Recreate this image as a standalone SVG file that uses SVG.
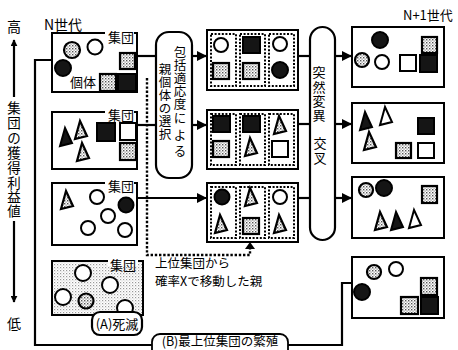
<svg xmlns="http://www.w3.org/2000/svg" xmlns:xlink="http://www.w3.org/1999/xlink" width="458" height="350" viewBox="0 0 458 350">
<defs>
<pattern id="dots" width="3" height="3" patternUnits="userSpaceOnUse"><rect width="3" height="3" fill="#fff"/><rect x="0" y="0" width="1.4" height="1.4" fill="#555"/><rect x="1.5" y="1.5" width="1.2" height="1.2" fill="#888"/></pattern>
<pattern id="lite" width="3" height="3" patternUnits="userSpaceOnUse"><rect width="3" height="3" fill="#fff"/><rect x="0" y="0" width="1.2" height="1.2" fill="#999"/><rect x="1.5" y="1.5" width="1" height="1" fill="#bbb"/></pattern>
<marker id="ah" viewBox="0 0 10 10" refX="9" refY="5" markerWidth="10" markerHeight="10" markerUnits="userSpaceOnUse" orient="auto"><path d="M0,0 L10,5 L0,10 Z" fill="#000"/></marker>
<marker id="sa" viewBox="0 0 10 10" refX="9" refY="5" markerWidth="7" markerHeight="7" markerUnits="userSpaceOnUse" orient="auto"><path d="M0,0 L10,5 L0,10 Z" fill="#000"/></marker>
<path id="tri" d="M5,0 L0,18 L12,15 Z"/>
</defs>
<style>
.j{font-family:"Noto Sans CJK JP","Noto Sans",sans-serif;fill:#000}
.box{fill:#fff;stroke:#000;stroke-width:2}
.dead{fill:url(#lite);stroke:#000;stroke-width:2}
.pill{fill:#fff;stroke:#000;stroke-width:2.2}
.col{fill:none;stroke:#000;stroke-width:2;stroke-dasharray:2 1.6}
.w{fill:#fff;stroke:#000;stroke-width:2}
.b{fill:#151515;stroke:#000;stroke-width:2}
.d{fill:url(#dots);stroke:#000;stroke-width:2.2}
.ln{fill:none;stroke:#000;stroke-width:2.2}
.dl{fill:none;stroke:#000;stroke-width:2.4;stroke-dasharray:2.4 1.8}
.lab{fill:#fff;stroke:none}
</style>

<g id="axis">
<text class="j" x="14" y="32" font-size="14" text-anchor="middle">高</text>
<line x1="14" y1="97" x2="14" y2="40" class="ln" stroke-width="1.4" marker-end="url(#sa)"/>
<text class="j" font-size="13.5" text-anchor="middle"><tspan x="14" y="113">集</tspan><tspan x="14" y="128">団</tspan><tspan x="14" y="143">の</tspan><tspan x="14" y="158">獲</tspan><tspan x="14" y="173">得</tspan><tspan x="14" y="188">利</tspan><tspan x="14" y="202">益</tspan><tspan x="14" y="216">値</tspan></text>
<line x1="14" y1="221" x2="14" y2="302" class="ln" stroke-width="1.4" marker-end="url(#sa)"/>
<text class="j" x="14" y="329" font-size="14" text-anchor="middle">低</text>
</g>

<text class="j" x="44" y="30" font-size="14">N世代</text>
<text class="j" x="403" y="20" font-size="13">N+1世代</text>

<g id="connectors">
<polyline class="ln" points="52,60 35,60 35,345 342,345 342,283 352,283"/>
<line class="ln" x1="137" y1="56" x2="156" y2="56"/>
<line class="ln" x1="137" y1="125" x2="156" y2="125"/>
<line class="ln" x1="137" y1="198" x2="206" y2="198" marker-end="url(#ah)"/>
<line class="ln" x1="192" y1="56" x2="206" y2="56" marker-end="url(#ah)"/>
<line class="ln" x1="192" y1="125" x2="206" y2="125" marker-end="url(#ah)"/>
<line class="ln" x1="298" y1="56" x2="310" y2="56"/>
<line class="ln" x1="298" y1="124" x2="310" y2="124"/>
<line class="ln" x1="298" y1="198" x2="310" y2="198"/>
<line class="ln" x1="335" y1="56" x2="351" y2="56" marker-end="url(#ah)"/>
<line class="ln" x1="335" y1="124" x2="351" y2="124" marker-end="url(#ah)"/>
<line class="ln" x1="335" y1="198" x2="351" y2="198" marker-end="url(#ah)"/>
<polyline class="dl" points="147,78 147,255 250,255 250,248"/>
<path d="M245,249 L250,242 L255,249 Z" fill="#000"/>
</g>

<g id="g1">
<rect class="box" x="52" y="33" width="85" height="59"/>
<rect class="lab" x="105" y="30" width="29" height="8"/>
<text class="j" x="108" y="42" font-size="13">集団</text>
<circle class="d" cx="72" cy="50" r="8"/>
<circle class="w" cx="95" cy="47" r="7.5"/>
<circle class="b" cx="63" cy="68" r="8"/>
<rect class="d" x="120" y="53" width="15" height="16"/>
<text class="j" x="70" y="87" font-size="13">個体</text>
<rect class="d" x="100" y="74" width="16" height="17"/>
<rect class="b" x="118" y="74" width="18" height="17"/>
</g>

<g id="g2">
<rect class="box" x="52" y="112" width="85" height="57"/>
<rect class="lab" x="105" y="108" width="29" height="8"/>
<text class="j" x="108" y="120" font-size="13">集団</text>
<use href="#tri" x="60" y="128" class="b"/>
<use href="#tri" x="75" y="121" class="d"/>
<use href="#tri" x="77" y="143" class="d"/>
<rect class="b" x="97" y="123" width="18" height="18"/>
<rect class="w" x="120" y="123" width="16" height="17"/>
<rect class="d" x="120" y="143" width="16" height="17"/>
</g>

<g id="g3">
<rect class="box" x="52" y="183" width="85" height="62"/>
<rect class="lab" x="105" y="179" width="29" height="8"/>
<text class="j" x="108" y="191" font-size="13">集団</text>
<use href="#tri" x="61" y="191" class="d"/>
<circle class="w" cx="97" cy="197" r="7"/>
<circle class="b" cx="126" cy="205" r="7.5"/>
<circle class="w" cx="108" cy="216" r="7"/>
<circle class="w" cx="88" cy="228" r="7"/>
<circle class="w" cx="125" cy="230" r="7"/>
</g>

<g id="g4">
<rect class="dead" x="52" y="261" width="91" height="54"/>
<rect class="lab" x="108" y="258" width="30" height="8"/>
<text class="j" x="110" y="270" font-size="13">集団</text>
<circle class="w" cx="83" cy="273" r="8"/>
<circle class="w" cx="110" cy="285" r="8"/>
<circle class="w" cx="63" cy="297" r="8"/>
<circle class="d" cx="86" cy="301" r="7.5" stroke-width="2.6"/>
<circle class="w" cx="125" cy="308" r="8"/>
<rect x="92" y="312" width="50" height="23" rx="8" fill="#fff" stroke="#000" stroke-width="2.2"/>
<text class="j" x="117" y="328.5" font-size="13" text-anchor="middle">(A)死滅</text>
</g>

<g id="select">
<rect class="pill" x="156" y="32" width="36" height="146" rx="13"/>
<text class="j" font-size="12.5" text-anchor="middle"><tspan x="180" y="57">包</tspan><tspan x="180" y="70">括</tspan><tspan x="180" y="83">適</tspan><tspan x="180" y="96">応</tspan><tspan x="180" y="109">度</tspan><tspan x="180" y="123">に</tspan><tspan x="180" y="140">よ</tspan><tspan x="180" y="156">る</tspan></text>
<text class="j" font-size="12.5" text-anchor="middle"><tspan x="165" y="74">親</tspan><tspan x="165" y="87">個</tspan><tspan x="165" y="100">体</tspan><tspan x="165" y="113">の</tspan><tspan x="165" y="126">選</tspan><tspan x="165" y="139">択</tspan></text>
</g>

<g id="m1">
<rect class="box" x="207" y="30" width="91" height="60"/>
<rect class="col" x="211" y="34" width="25" height="52"/>
<rect class="col" x="240" y="34" width="25" height="52"/>
<rect class="col" x="269" y="34" width="25" height="52"/>
<circle class="w" cx="221" cy="45" r="7"/>
<rect class="d" x="213" y="63" width="16" height="16"/>
<rect class="b" x="243" y="37" width="17" height="16"/>
<rect class="d" x="243" y="63" width="16" height="16"/>
<circle class="w" cx="280" cy="44" r="7"/>
<circle class="b" cx="280" cy="70" r="8"/>
</g>

<g id="m2">
<rect class="box" x="207" y="110" width="91" height="59"/>
<rect class="col" x="211" y="114" width="25" height="51"/>
<rect class="col" x="240" y="114" width="25" height="51"/>
<rect class="col" x="269" y="114" width="25" height="51"/>
<rect class="b" x="213" y="116" width="17" height="16"/>
<rect class="d" x="213" y="141" width="16" height="16"/>
<rect class="b" x="243" y="116" width="17" height="16"/>
<use href="#tri" x="245" y="138" class="d"/>
<use href="#tri" x="274" y="116" class="d"/>
<rect class="w" x="272" y="141" width="16" height="16"/>
</g>

<g id="m3">
<rect class="box" x="207" y="183" width="91" height="59"/>
<rect class="col" x="211" y="187" width="25" height="51"/>
<rect class="col" x="240" y="187" width="25" height="51"/>
<rect class="col" x="269" y="187" width="25" height="51"/>
<circle class="b" cx="222" cy="197" r="7.5"/>
<use href="#tri" x="215" y="215" class="d"/>
<use href="#tri" x="245" y="188" class="d"/>
<rect class="d" x="243" y="218" width="16" height="16"/>
<circle class="w" cx="280" cy="197" r="7"/>
<use href="#tri" x="274" y="215" class="d"/>
</g>

<g id="mutate">
<rect class="pill" x="310" y="27" width="25" height="213" rx="12.5"/>
<text class="j" font-size="13" text-anchor="middle"><tspan x="319" y="77">突</tspan><tspan x="319" y="92">然</tspan><tspan x="319" y="106">変</tspan><tspan x="319" y="120">異</tspan><tspan x="320" y="148">交</tspan><tspan x="320" y="163">叉</tspan></text>
</g>

<g id="n1">
<rect class="box" x="352" y="27" width="92" height="60"/>
<circle class="b" cx="380" cy="40" r="8"/>
<rect class="d" x="422" y="37" width="15" height="16"/>
<circle class="d" cx="362" cy="60" r="7" stroke-width="2.6"/>
<circle class="w" cx="382" cy="62" r="7"/>
<rect class="w" x="400" y="55" width="16" height="16"/>
<rect class="b" x="420" y="55" width="17" height="17"/>
</g>

<g id="n2">
<rect class="box" x="352" y="103" width="92" height="60"/>
<use href="#tri" x="360" y="112" class="b"/>
<use href="#tri" x="380" y="107" class="w"/>
<rect class="b" x="418" y="118" width="16" height="16"/>
<use href="#tri" x="364" y="132" class="d"/>
<rect class="d" x="396" y="143" width="15" height="15"/>
<rect class="w" x="418" y="143" width="16" height="15"/>
</g>

<g id="n3">
<rect class="box" x="352" y="177" width="92" height="61"/>
<circle class="d" cx="366" cy="190" r="7" stroke-width="2.6"/>
<circle class="b" cx="384" cy="188" r="8"/>
<rect class="d" x="422" y="186" width="15" height="17"/>
<use href="#tri" x="375" y="212" class="d"/>
<use href="#tri" x="391" y="212" class="b"/>
<use href="#tri" x="409" y="210" class="w"/>
</g>

<g id="n4">
<rect class="box" x="352" y="257" width="92" height="61"/>
<circle class="d" cx="374" cy="272" r="7" stroke-width="2.6"/>
<circle class="w" cx="396" cy="269" r="7"/>
<circle class="b" cx="362" cy="292" r="8"/>
<rect class="d" x="421" y="278" width="16" height="17"/>
<rect class="d" x="401" y="297" width="17" height="17"/>
<rect class="b" x="421" y="297" width="17" height="17"/>
</g>

<g id="breed">
<rect x="152" y="334" width="136" height="26" rx="8" fill="#fff" stroke="#000" stroke-width="1.8"/>
<text class="j" x="220" y="346" font-size="12.5" text-anchor="middle">(B)最上位集団の繁殖</text>
</g>

<g id="note">
<text class="j" x="155" y="268" font-size="12.5">上位集団から</text>
<text class="j" x="155" y="286" font-size="12.5">確率Xで移動した親</text>
</g>
</svg>
